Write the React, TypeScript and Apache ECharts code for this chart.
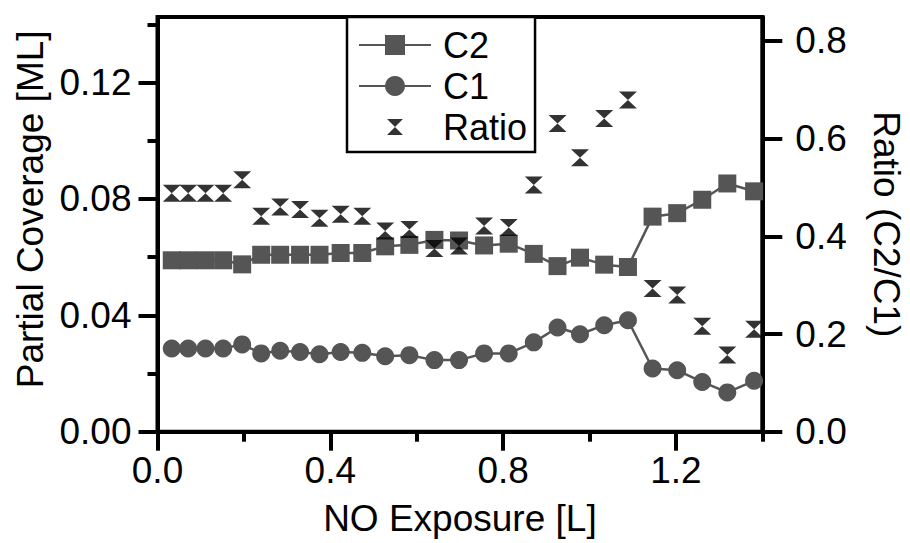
import React, { useEffect, useRef } from "react";
import * as echarts from "echarts";

// NO exposure (L) for each measurement
const exposure = [
  0.033, 0.071, 0.111, 0.152, 0.196, 0.24, 0.284, 0.33, 0.375, 0.424, 0.474,
  0.527, 0.583, 0.641, 0.698, 0.756, 0.813, 0.871, 0.926, 0.978, 1.034, 1.089,
  1.146, 1.203, 1.261, 1.319, 1.381,
];

// Partial coverage of the C2 species (ML)
const c2 = [
  0.0589, 0.0589, 0.0589, 0.0589, 0.0575, 0.0608, 0.0608, 0.0608, 0.0608,
  0.0614, 0.0614, 0.0637, 0.0642, 0.0659, 0.0657, 0.064, 0.0646, 0.0611,
  0.0569, 0.0598, 0.0574, 0.0566, 0.0739, 0.0751, 0.0797, 0.0853, 0.0826,
];

// Partial coverage of the C1 species (ML)
const c1 = [
  0.0286, 0.0286, 0.0286, 0.0286, 0.03, 0.0269, 0.0278, 0.0274, 0.0266,
  0.0274, 0.0271, 0.0259, 0.0263, 0.0246, 0.0246, 0.0269, 0.0269, 0.0307,
  0.0358, 0.0335, 0.0366, 0.0383, 0.0217, 0.0211, 0.0171, 0.0135, 0.0175,
];

// Coverage ratio, right axis
const ratio = [
  0.488, 0.488, 0.488, 0.488, 0.516, 0.441, 0.46, 0.455, 0.437, 0.445, 0.441,
  0.411, 0.414, 0.375, 0.38, 0.421, 0.418, 0.505, 0.631, 0.561, 0.641, 0.679,
  0.293, 0.28, 0.216, 0.157, 0.2095,
];

const xMajorTicks = [0, 0.4, 0.8, 1.2];
const xMinorTicks = [0.2, 0.6, 1.0, 1.4];
const yMajorTicks = [0, 0.04, 0.08, 0.12];
const yMinorTicks = [0.02, 0.06, 0.1, 0.14];
const ratioTicks = [0, 0.2, 0.4, 0.6, 0.8];

const FONT = "'Liberation Sans', Arial, Helvetica, sans-serif";
const GRAY = "#555555";
const HOURGLASS = "path://M0,0L14,0L7,7L14,14L0,14L7,7Z";
// same glyph with an empty margin so the legend draws it smaller
const HOURGLASS_LEGEND = "path://M-4,-4M18,18M0,0L14,0L7,7L14,14L0,14L7,7Z";

const axisLineStyle = { color: "#000", width: 4 };

export default function App() {
  const ref = useRef<HTMLDivElement>(null);

  useEffect(() => {
    document.body.style.margin = "0";
    if (!ref.current) return;
    const chart = echarts.init(ref.current, null, { renderer: "svg" });

    const pair = (ys: number[]) => exposure.map((x, i) => [x, ys[i]]);
    const labelStyle = { fontFamily: FONT, fontSize: 37, color: "#000" };

    chart.setOption({
      animation: false,
      backgroundColor: "#fff",
      grid: {
        left: 157.5,
        top: 17,
        width: 604.8,
        height: 414.7,
        show: true,
        borderColor: "#000",
        borderWidth: 4,
        backgroundColor: "transparent",
        containLabel: false,
        outerBoundsMode: "none",
      },
      legend: {
        orient: "vertical",
        left: 347,
        top: 17,
        padding: [10, 8, 7, 11],
        itemWidth: 72,
        itemHeight: 25,
        itemGap: 5,
        borderColor: "#000",
        borderWidth: 2.5,
        backgroundColor: "#fff",
        textStyle: { ...labelStyle, fontSize: 36, lineHeight: 36, padding: [0, 0, 0, 7] },
        data: [{ name: "C2" }, { name: "C1" }, { name: "Ratio", icon: HOURGLASS_LEGEND }],
      },
      xAxis: [
        {
          type: "value",
          position: "bottom",
          min: 0,
          max: 1.4,
          axisLine: { onZero: false, lineStyle: axisLineStyle },
          axisTick: { customValues: xMajorTicks, length: 19, lineStyle: axisLineStyle },
          axisLabel: {
            customValues: xMajorTicks,
            formatter: (v: number) => v.toFixed(1),
            margin: 20,
            ...labelStyle,
          },
          splitLine: { show: false },
          name: "NO Exposure [L]",
          nameLocation: "middle",
          nameGap: 68,
          nameTextStyle: labelStyle,
        },
        {
          type: "value",
          position: "bottom",
          min: 0,
          max: 1.4,
          axisLine: { show: false, onZero: false },
          axisTick: { customValues: xMinorTicks, length: 10, lineStyle: axisLineStyle },
          axisLabel: { show: false },
          splitLine: { show: false },
        },
      ],
      yAxis: [
        {
          type: "value",
          position: "left",
          min: 0,
          max: 0.1425,
          axisLine: { show: true, onZero: false, lineStyle: axisLineStyle },
          axisTick: { show: true, customValues: yMajorTicks, length: 19, lineStyle: axisLineStyle },
          axisLabel: {
            customValues: yMajorTicks,
            formatter: (v: number) => v.toFixed(2),
            margin: 26,
            ...labelStyle,
          },
          splitLine: { show: false },
          name: "Partial Coverage [ML]",
          nameLocation: "middle",
          nameGap: 109,
          nameTextStyle: { ...labelStyle, padding: [0, 0, 0, 30] },
        },
        {
          type: "value",
          position: "left",
          min: 0,
          max: 0.1425,
          axisLine: { show: false, onZero: false },
          axisTick: { show: true, customValues: yMinorTicks, length: 10, lineStyle: axisLineStyle },
          axisLabel: { show: false },
          splitLine: { show: false },
        },
        {
          type: "value",
          position: "right",
          min: 0,
          max: 0.849,
          axisLine: { show: true, onZero: false, lineStyle: axisLineStyle },
          axisTick: { show: true, customValues: ratioTicks, length: 20, lineStyle: axisLineStyle },
          axisLabel: {
            customValues: ratioTicks,
            formatter: (v: number) => v.toFixed(1),
            margin: 33,
            ...labelStyle,
          },
          splitLine: { show: false },
          name: "Ratio (C2/C1)",
          nameLocation: "middle",
          nameRotate: -90,
          nameGap: 106,
          nameTextStyle: labelStyle,
        },
      ],
      series: [
        {
          name: "C2",
          type: "line",
          xAxisIndex: 0,
          yAxisIndex: 0,
          data: pair(c2),
          symbol: "rect",
          symbolSize: 18,
          color: GRAY,
          itemStyle: { color: GRAY },
          lineStyle: { color: GRAY, width: 2.5 },
          z: 3,
        },
        {
          name: "C1",
          type: "line",
          xAxisIndex: 0,
          yAxisIndex: 0,
          data: pair(c1),
          symbol: "circle",
          symbolSize: 18,
          color: GRAY,
          itemStyle: { color: GRAY },
          lineStyle: { color: GRAY, width: 2.5 },
          z: 3,
        },
        {
          name: "Ratio",
          type: "scatter",
          xAxisIndex: 0,
          yAxisIndex: 2,
          data: pair(ratio),
          symbol: HOURGLASS,
          symbolSize: [18, 17],
          color: "#000",
          itemStyle: { color: "#000" },
          z: 4,
        },
      ],
    });

    return () => chart.dispose();
  }, []);

  return <div ref={ref} style={{ width: 910, height: 543 }} />;
}
